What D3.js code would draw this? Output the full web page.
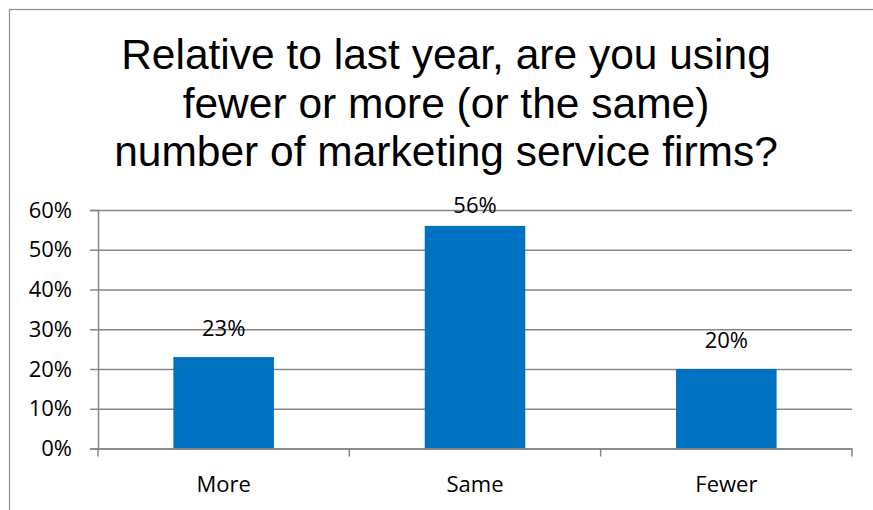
<!DOCTYPE html>
<html>
<head>
<meta charset="utf-8">
<script src="https://cdn.jsdelivr.net/npm/d3@7"></script>
<style>
  html, body { margin: 0; padding: 0; background: #fff; }
  svg { display: block; }
</style>
</head>
<body>
<svg id="chart" width="873" height="510"></svg>
<script>
// Survey answers and their shares
const categories = ["More", "Same", "Fewer"];
const shares = [0.23, 0.56, 0.20];
const yTicks = [0, 0.1, 0.2, 0.3, 0.4, 0.5, 0.6];
const titleLines = [
  "Relative to last year, are you using",
  "fewer or more (or the same)",
  "number of marketing service firms?"
];

const W = 873, H = 510;
const plot = { left: 98, right: 852, top: 210, bottom: 448.5 };
const axisColor = "#868686";
const barColor = "#0070C0";
const labelFont = "'Open Sans', 'Noto Sans', sans-serif";

const svg = d3.select("#chart");

// Outer chart frame (runs past the right and bottom edges)
svg.append("rect")
  .attr("x", 9.5).attr("y", 9.5)
  .attr("width", W).attr("height", H)
  .attr("fill", "none")
  .attr("stroke", "#8c8c8c")
  .attr("stroke-width", 1.2);

// Title
svg.append("g")
  .selectAll("text")
  .data(titleLines)
  .join("text")
  .attr("x", 446)
  .attr("y", (d, i) => 69 + i * 48.5)
  .attr("text-anchor", "middle")
  .attr("font-family", "'Liberation Sans', Arial, sans-serif")
  .attr("font-size", 42.5)
  .attr("fill", "#000")
  .text(d => d);

const x = d3.scaleBand()
  .domain(categories)
  .range([plot.left, plot.right])
  .paddingInner(0.6)
  .paddingOuter(0.3);

const y = d3.scaleLinear()
  .domain([0, 0.6])
  .range([plot.bottom, plot.top]);

// Horizontal gridlines
svg.append("g")
  .attr("transform", `translate(${plot.left},0)`)
  .call(d3.axisLeft(y).tickValues(yTicks).tickSize(-(plot.right - plot.left)).tickFormat(""))
  .call(g => g.select(".domain").remove())
  .call(g => g.selectAll("line").attr("stroke", axisColor).attr("stroke-width", 1.5));

// Y axis with tick marks and percentage labels
svg.append("g")
  .attr("transform", `translate(${plot.left},0)`)
  .call(d3.axisLeft(y).tickValues(yTicks).tickSize(8).tickPadding(18).tickFormat(d3.format(".0%")))
  .call(g => g.select(".domain").attr("stroke", axisColor).attr("stroke-width", 1.5))
  .call(g => g.selectAll("line").attr("stroke", axisColor).attr("stroke-width", 1.5))
  .call(g => g.selectAll("text")
    .attr("font-family", labelFont)
    .attr("font-size", 22)
    .attr("fill", "#000"));

// Bars
svg.append("g")
  .selectAll("rect")
  .data(categories.map((c, i) => ({ c, v: shares[i] })))
  .join("rect")
  .attr("x", d => x(d.c))
  .attr("y", d => y(d.v))
  .attr("width", x.bandwidth())
  .attr("height", d => y(0) - y(d.v))
  .attr("fill", barColor);

// X axis baseline and category labels
svg.append("g")
  .attr("transform", `translate(0,${plot.bottom})`)
  .call(d3.axisBottom(x).tickSize(0).tickPadding(28))
  .call(g => g.select(".domain").attr("stroke", axisColor).attr("stroke-width", 1.5))
  .call(g => g.selectAll("text")
    .attr("font-family", labelFont)
    .attr("font-size", 22)
    .attr("fill", "#000"));

// Tick marks at category boundaries
const boundaries = d3.range(categories.length + 1).map(i => plot.left + i * x.step());
svg.append("g")
  .selectAll("line")
  .data(boundaries)
  .join("line")
  .attr("x1", d => d).attr("x2", d => d)
  .attr("y1", plot.bottom).attr("y2", plot.bottom + 8)
  .attr("stroke", axisColor)
  .attr("stroke-width", 1.5);

// Value labels above bars, kept from rising past the top gridline
svg.append("g")
  .selectAll("text")
  .data(categories.map((c, i) => ({ c, v: shares[i] })))
  .join("text")
  .attr("x", d => x(d.c) + x.bandwidth() / 2)
  .attr("y", d => Math.max(y(d.v) - 21, plot.top + 3))
  .attr("text-anchor", "middle")
  .attr("font-family", labelFont)
  .attr("font-size", 22)
  .attr("fill", "#000")
  .text(d => d3.format(".0%")(d.v));
</script>
</body>
</html>
